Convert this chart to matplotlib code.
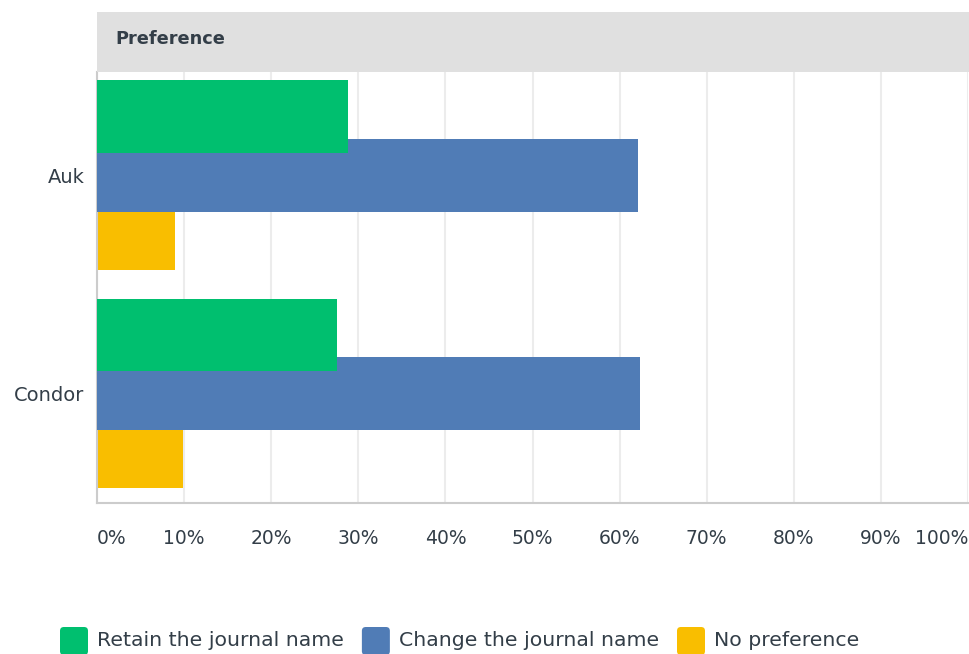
import matplotlib
matplotlib.use("Agg")
import matplotlib.pyplot as plt
from matplotlib.patches import Rectangle, FancyBboxPatch
import numpy as np

categories = ["Auk", "Condor"]
series_names = ["Retain the journal name", "Change the journal name", "No preference"]
retain = [28.8, 27.5]
change = [62.1, 62.3]
no_pref = [8.9, 9.9]
xtick_vals = [0, 10, 20, 30, 40, 50, 60, 70, 80, 90, 100]
xtick_labels = [f"{v}%" for v in xtick_vals]
header = "Preference"

colors = ["#00BF6F", "#507CB6", "#F9BE00"]
txt = "#333e48"

plt.rcParams['font.family'] = ['DejaVu Sans']

W, H = 970, 654
fig = plt.figure(figsize=(W/100, H/100), dpi=100)
ax = fig.add_axes([97/W, (H-503)/H, (968-97)/W, (503-72)/H])

y = np.arange(len(categories))
h = 0.3335
off = 0.2675
# yellow first, then blue, green on top
ax.barh(y+off, no_pref, height=h, color=colors[2], zorder=2)
ax.barh(y, change, height=h, color=colors[1], zorder=3)
ax.barh(y-off, retain, height=h, color=colors[0], zorder=4)

ax.set_xlim(0, 100)
ax.set_ylim(1.502, -0.4725)
ax.set_xticks(xtick_vals)
ax.set_xticklabels(xtick_labels, fontsize=13.5, color=txt)
tl = ax.get_xticklabels()
tl[0].set_horizontalalignment("left")
tl[-1].set_horizontalalignment("right")
ax.set_yticks(y)
ax.set_yticklabels(categories, fontsize=14, color=txt)
ax.tick_params(axis="x", length=0, pad=19)
ax.tick_params(axis="y", length=0, pad=9)
ax.grid(axis="x", color="#ececec", linewidth=1.5, zorder=0)
ax.set_axisbelow(True)
for s in ["top", "right"]:
    ax.spines[s].set_visible(False)
for s in ["left", "bottom"]:
    ax.spines[s].set_color("#cccccc")
    ax.spines[s].set_linewidth(1.5)

# header band
fig.patches.append(Rectangle((97/W, (H-72)/H), 1-97/W, 60/H, transform=fig.transFigure,
                             facecolor="#e0e0e0", edgecolor="none"))
fig.text(115/W, (H-39)/H, header, fontsize=12.8, fontweight="bold", color=txt,
         ha="left", va="center")

# legend
fig.canvas.draw()
r = fig.canvas.get_renderer()
x = 60
yc = H - 641
sq = 28
for name, c in zip(series_names, colors):
    fig.patches.append(FancyBboxPatch(((x)/W, (yc-sq/2)/H), sq/W, sq/H,
                                      boxstyle="round,pad=0,rounding_size=0.004",
                                      transform=fig.transFigure, facecolor=c,
                                      edgecolor="none", mutation_aspect=W/H))
    t = fig.text((x+sq+9)/W, yc/H, name, fontsize=14.7, color=txt, ha="left", va="center")
    bb = t.get_window_extent(renderer=r)
    x = bb.x1 + 18

fig.savefig("out.png", dpi=100)
